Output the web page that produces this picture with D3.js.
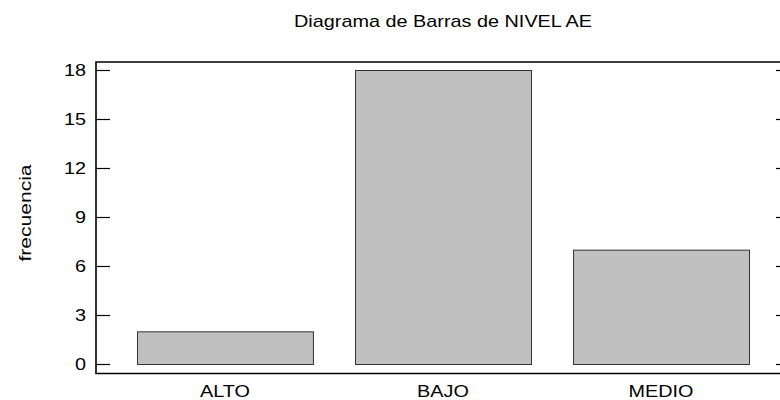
<!DOCTYPE html>
<html>
<head>
<meta charset="utf-8">
<script src="https://cdn.jsdelivr.net/npm/d3@7"></script>
<style>
  body { margin: 0; background: #fff; }
  text { font-family: "Liberation Sans", Arial, sans-serif; fill: #000; }
</style>
</head>
<body>
<div id="chart"></div>
<script>
// datos
let categorias = ['ALTO', 'BAJO', 'MEDIO']
let frecuencias = [2, 18, 7]
let ticksMayores = [0, 3, 6, 9, 12, 15, 18]
let ticksMenores = d3.range(0, 19)
let titulo = 'Diagrama de Barras de NIVEL AE'
let etiquetaY = 'frecuencia'

const width = 780
const height = 400
// el grafico original esta estirado en horizontal
const sx = 1.24
const fs = 16

// marco del grafico
const mLeft = 96, mRight = 790, mTop = 62, mBottom = 373.5

let svg = d3.select('#chart').append('svg')
  .attr('width', width)
  .attr('height', height)

let x = d3.scaleBand()
  .domain(categorias)
  .range([mLeft, mRight])
  .paddingInner(0.193)
  .paddingOuter(0.188)

let y = d3.scaleLinear().domain([0, 18]).range([364, 70])

// barras
svg.append('g').selectAll('rect')
  .data(frecuencias)
  .enter()
  .append('rect')
  .attr('x', (d, i) => x(categorias[i]) + 0.5)
  .attr('y', d => y(d) + 0.5)
  .attr('width', x.bandwidth())
  .attr('height', d => y(0) - y(d))
  .attr('fill', '#c0c0c0')
  .attr('stroke', '#333')
  .attr('stroke-width', 1)

// ticks izquierda
let gl = svg.append('g').attr('transform', 'translate(' + mLeft + ',0)')
gl.call(d3.axisLeft(y).tickValues(ticksMenores).tickSize(-7).tickFormat(''))
gl.call(d3.axisLeft(y).tickValues(ticksMayores).tickSize(-14).tickFormat(''))
gl.selectAll('.domain').remove()
gl.selectAll('line').attr('stroke', '#000').attr('stroke-width', 1.2)

// ticks derecha
let gr = svg.append('g').attr('transform', 'translate(' + mRight + ',0)')
gr.call(d3.axisRight(y).tickValues(ticksMenores).tickSize(-7).tickFormat(''))
gr.call(d3.axisRight(y).tickValues(ticksMayores).tickSize(-14).tickFormat(''))
gr.selectAll('.domain').remove()
gr.selectAll('line').attr('stroke', '#000').attr('stroke-width', 1.2)

// marco
svg.append('path')
  .attr('d', 'M' + mRight + ',' + mTop + 'H' + mLeft + 'V' + mBottom + 'H' + mRight)
  .attr('fill', 'none')
  .attr('stroke', '#000')
  .attr('stroke-width', 1.6)

// etiquetas eje y
svg.append('g').selectAll('text')
  .data(ticksMayores)
  .enter()
  .append('text')
  .attr('transform', d => 'translate(' + (mLeft - 10) + ',' + (y(d) + fs * 0.36) + ') scale(' + sx + ',1)')
  .attr('text-anchor', 'end')
  .attr('font-size', fs)
  .text(d => d)

// etiquetas eje x
svg.append('g').selectAll('text')
  .data(categorias)
  .enter()
  .append('text')
  .attr('transform', d => 'translate(' + (x(d) + x.bandwidth() / 2) + ',397) scale(' + sx + ',1)')
  .attr('text-anchor', 'middle')
  .attr('font-size', fs)
  .text(d => d)

// titulo
svg.append('text')
  .attr('transform', 'translate(' + ((mLeft + mRight) / 2) + ',27) scale(' + sx + ',1)')
  .attr('text-anchor', 'middle')
  .attr('font-size', fs)
  .text(titulo)

// titulo eje y
svg.append('text')
  .attr('transform', 'translate(31,213) rotate(-90) scale(' + sx + ',1)')
  .attr('text-anchor', 'middle')
  .attr('font-size', 17)
  .text(etiquetaY)
</script>
</body>
</html>
